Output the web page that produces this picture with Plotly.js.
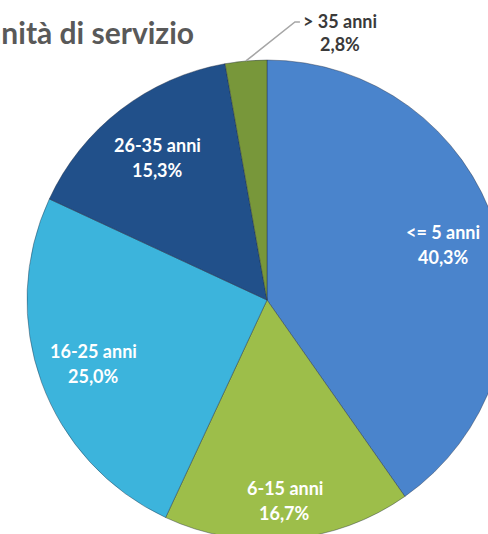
<!DOCTYPE html>
<html><head><meta charset="utf-8">
<script src="https://cdn.plot.ly/plotly-3.0.1.min.js"></script>
<style>
html,body{margin:0;padding:0;overflow:hidden;background:#fff;width:488px;height:534px}
#chart{position:absolute;left:0;top:0;width:520px;height:560px}
</style>
</head><body><div id="chart"></div>
<script>
// ---- data ----
const categories = ['<= 5 anni', '6-15 anni', '16-25 anni', '26-35 anni', '> 35 anni'];
const values = [40.3, 16.7, 25.0, 15.3, 2.8];
const titleText = 'Anzianità di servizio';

// ---- style ----
const colors = ['#4a84cc', '#9dbe4a', '#3cb4dc', '#21508a', '#78973a'];
const W = 520, H = 560;
const pieBox = {x0: 27, x1: 507, y0: 60, y1: 540};
const labelRadius = [0.77, 0.84, 0.77, 0.75, null];
const lineGap = 25;               // px between the two label lines
const leaderOffset = [49, -39];   // px from slice edge to elbow
const leaderTail = 5;             // px horizontal tail
const labelFont = 'Lato, "Open Sans", sans-serif';

const cx = (pieBox.x0 + pieBox.x1) / 2, cy = (pieBox.y0 + pieBox.y1) / 2;
const R = Math.min(pieBox.x1 - pieBox.x0, pieBox.y1 - pieBox.y0) / 2;
const px = x => x / W, py = y => 1 - y / H;
const fmt = v => v.toFixed(1).replace('.', ',') + '%';

function twoLines(x, y, l1, l2, color, xanchor) {
  return [l1, l2].map((t, k) => ({
    xref: 'paper', yref: 'paper',
    x: px(x), y: py(y + (k - 0.5) * lineGap),
    text: '<b>' + t + '</b>', showarrow: false,
    xanchor: xanchor, yanchor: 'middle',
    font: {family: labelFont, size: 18, color: color}
  }));
}

const total = values.reduce((a, b) => a + b, 0);
let cum = 0;
let annotations = [];
const shapes = [];
values.forEach((v, i) => {
  const theta = (cum + v / 2) / total * 2 * Math.PI;
  cum += v;
  if (labelRadius[i] !== null) {
    const r = labelRadius[i] * R;
    annotations = annotations.concat(
      twoLines(cx + r * Math.sin(theta), cy - r * Math.cos(theta), categories[i], fmt(v), '#ffffff', 'center'));
  } else {
    const tx = cx + R * Math.sin(theta), ty = cy - R * Math.cos(theta);
    const ex = tx + leaderOffset[0], ey = ty + leaderOffset[1];
    const fx = ex + leaderTail;
    shapes.push({
      type: 'path', xref: 'paper', yref: 'paper',
      path: `M ${px(tx)} ${py(ty)} L ${px(ex)} ${py(ey)} L ${px(fx)} ${py(ey)}`,
      line: {color: '#a6a6a6', width: 1.5}
    });
    // text block: first line starts at the leader end, second line centred under it
    annotations.push({
      xref: 'paper', yref: 'paper', x: px(fx + 1), y: py(ey - 1),
      text: '<b>' + categories[i] + '</b>', showarrow: false,
      xanchor: 'left', yanchor: 'middle',
      font: {family: labelFont, size: 18, color: '#3a3a3a'}
    });
    annotations.push({
      xref: 'paper', yref: 'paper', x: px(fx + 40), y: py(ey - 1 + lineGap - 2),
      text: '<b>' + fmt(v) + '</b>', showarrow: false,
      xanchor: 'center', yanchor: 'middle',
      font: {family: labelFont, size: 18, color: '#3a3a3a'}
    });
  }
});

const trace = {
  type: 'pie',
  labels: categories,
  values: values,
  sort: false,
  direction: 'clockwise',
  rotation: 0,
  textinfo: 'none',
  hoverinfo: 'label+percent',
  marker: {colors: colors, line: {color: 'rgba(30,40,60,0.4)', width: 1}},
  domain: {x: [pieBox.x0 / W, pieBox.x1 / W], y: [1 - pieBox.y1 / H, 1 - pieBox.y0 / H]}
};

const layout = {
  width: W, height: H,
  margin: {l: 0, r: 0, t: 0, b: 0},
  paper_bgcolor: '#ffffff',
  showlegend: false,
  title: {
    text: '<b>' + titleText + '</b>',
    xref: 'container', yref: 'container',
    x: 194 / W, xanchor: 'right',
    y: 1 - 33 / H, yanchor: 'middle',
    font: {family: labelFont, size: 30, color: '#595959'}
  },
  annotations: annotations,
  shapes: shapes
};

Plotly.newPlot('chart', [trace], layout, {displayModeBar: false, staticPlot: true});
</script>
</body></html>
